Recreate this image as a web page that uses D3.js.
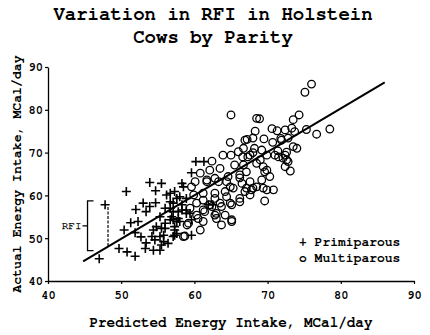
<!DOCTYPE html>
<html>
<head>
<meta charset="utf-8">
<script src="https://cdn.jsdelivr.net/npm/d3@7"></script>
<style>
body { margin: 0; background: #fff; }
text { font-family: FreeMono, "Courier New", "Liberation Mono", monospace; }
</style>
</head>
<body>
<div class="chart"></div>
<script>
// Primiparous cows (+)
var primX = [47.8, 47.0, 50.7, 53.9, 55.5, 54.7, 52.0, 53.0, 53.4, 54.7, 51.3, 52.3, 50.4, 51.9, 52.7,
  49.7, 50.8, 51.9, 53.4, 56.2, 57.3, 58.3, 54.4, 55.5, 55.8, 54.6, 55.5, 53.3, 56.9, 57.6,
  56.0, 56.7, 57.8, 57.3, 57.1, 56.4, 55.3, 54.4, 58.3, 58.0, 60.2, 61.3, 59.6, 57.1, 58.9,
  59.4, 58.0, 57.1, 57.3, 59.6, 61.9, 62.5, 56.7, 58.5, 56.7, 57.6, 58.9, 53.9, 56.0, 57.1,
  58.3, 55.3, 56.7, 57.8, 58.9, 59.6, 54.8, 56.0, 57.3, 55.3, 54.2, 57.6, 55.8];
var primY = [57.8, 45.2, 60.9, 63.0, 62.8, 61.1, 56.7, 58.2, 56.2, 58.3, 53.6, 53.9, 51.9, 51.3, 50.3,
  47.6, 46.8, 45.8, 48.9, 60.1, 60.9, 62.8, 51.9, 52.3, 50.7, 49.6, 48.4, 47.6, 55.0, 53.9,
  53.5, 57.0, 56.2, 51.9, 50.4, 48.8, 47.2, 47.2, 57.8, 59.7, 67.9, 67.9, 65.3, 58.2, 56.6,
  55.8, 53.9, 54.3, 50.7, 50.7, 57.8, 57.8, 60.5, 62.0, 58.5, 59.3, 59.3, 57.4, 57.0, 56.2,
  56.6, 55.0, 54.3, 54.6, 55.8, 54.3, 52.7, 52.3, 52.7, 50.4, 50.4, 51.1, 49.2];

// Multiparous cows (o)
var multX = [76.0, 75.1, 74.3, 73.5, 75.3, 76.7, 78.5, 68.9, 65.0, 68.5, 70.6, 71.3, 72.4, 73.3, 73.7,
  68.3, 67.2, 68.0, 69.5, 71.8, 70.7, 72.8, 73.5, 72.6, 71.4, 71.5, 72.1, 72.8, 72.4, 73.1,
  69.2, 69.9, 69.0, 66.7, 68.2, 68.0, 67.3, 69.4, 69.6, 70.3, 69.2, 68.5, 67.6, 70.8, 69.6,
  66.9, 66.2, 67.1, 66.7, 64.9, 66.9, 63.9, 65.0, 62.4, 66.0, 63.5, 65.5, 67.6, 68.5, 66.2,
  64.6, 63.3, 61.7, 60.1, 66.5, 68.0, 65.3, 64.2, 62.8, 61.2, 59.9, 66.2, 64.9, 63.5, 62.1,
  61.2, 63.0, 59.4, 60.5, 63.7, 65.1, 60.8, 58.7, 59.0, 59.6, 60.8, 62.1, 66.6, 71.0, 69.9,
  64.9, 67.1, 69.9, 67.6, 64.4, 62.8, 61.2, 60.3, 62.4, 63.7, 65.1, 66.2, 64.2, 62.8, 61.4,
  60.3, 59.2, 61.2, 65.1, 58.5, 63.0, 62.8, 72.6, 69.4, 67.8, 71.9, 74.0, 72.4, 64.4, 61.7];
var multY = [86.0, 84.1, 78.8, 77.7, 75.4, 74.3, 75.5, 77.9, 78.8, 78.0, 75.6, 75.1, 75.3, 75.7, 74.9,
  75.0, 73.1, 73.4, 73.2, 73.3, 72.4, 73.4, 71.4, 70.1, 70.4, 69.0, 68.7, 67.9, 66.7, 65.7,
  70.6, 69.4, 68.3, 71.0, 71.0, 70.0, 69.0, 66.7, 65.5, 64.4, 63.6, 62.0, 63.2, 61.3, 58.7,
  60.9, 64.1, 65.5, 67.1, 72.4, 72.9, 69.4, 69.4, 68.0, 70.2, 66.3, 67.1, 69.4, 67.5, 64.8,
  64.4, 63.2, 63.2, 63.2, 62.8, 61.7, 61.7, 60.9, 60.5, 60.5, 60.1, 59.3, 58.2, 58.2, 57.8,
  56.6, 55.8, 57.0, 54.6, 53.1, 53.9, 51.9, 50.5, 53.1, 62.0, 65.2, 65.9, 69.0, 69.4, 65.9,
  62.0, 61.7, 61.3, 60.1, 59.7, 59.3, 58.9, 58.2, 57.4, 57.4, 57.8, 58.5, 55.4, 55.4, 56.2,
  55.4, 53.5, 53.9, 54.3, 50.4, 54.6, 64.0, 68.3, 61.7, 61.3, 72.9, 71.0, 69.4, 63.2, 63.6];

// regression line end points
var fitX = [44.8, 86.0];
var fitY = [44.6, 86.4];

// RFI example: observed point above the line
var rfiX = 48.2;
var rfiTop = 57.3;

var ticks = [40, 50, 60, 70, 80, 90];
var legendLabels = ["+ Primiparous", "o Multiparous"];

var svgWidth = 430;
var svgHeight = 335;

var svg = d3.select(".chart")
  .append("svg")
  .attr("width", svgWidth)
  .attr("height", svgHeight);

var x = d3.scaleLinear().domain([40, 90]).range([48, 414]);
var y = d3.scaleLinear().domain([40, 90]).range([281, 67]);

// title
svg.append("text")
  .attr("x", 213).attr("y", 20)
  .attr("text-anchor", "middle")
  .style("font-weight", "bold").style("font-size", "19px")
  .text("Variation in RFI in Holstein");
svg.append("text")
  .attr("x", 213).attr("y", 43)
  .attr("text-anchor", "middle")
  .style("font-weight", "bold").style("font-size", "19px")
  .text("Cows by Parity");

// axes
svg.append("g")
  .attr("transform", "translate(0," + y(40) + ")")
  .call(d3.axisBottom(x).tickValues(ticks).tickSizeInner(3).tickSizeOuter(0).tickPadding(6));
svg.append("g")
  .attr("transform", "translate(" + x(40) + ",0)")
  .call(d3.axisLeft(y).tickValues(ticks).tickSizeInner(3).tickSizeOuter(0).tickPadding(2));

svg.selectAll(".domain").attr("stroke", "#000").attr("stroke-width", 1.3);
svg.selectAll(".tick line").attr("stroke", "#000").attr("stroke-width", 1.2);
svg.selectAll(".tick text")
  .attr("fill", "#000")
  .style("font-weight", "bold").style("font-size", "12px");

// axis titles
svg.append("text")
  .attr("x", 231).attr("y", 327)
  .attr("text-anchor", "middle")
  .style("font-weight", "bold").style("font-size", "14.3px")
  .text("Predicted Energy Intake, MCal/day");
svg.append("text")
  .attr("transform", "translate(21,174) rotate(-90)")
  .attr("text-anchor", "middle")
  .style("font-weight", "bold").style("font-size", "13.2px")
  .text("Actual Energy Intake, MCal/day");

// regression line
svg.append("line")
  .attr("x1", x(fitX[0])).attr("y1", y(fitY[0]))
  .attr("x2", x(fitX[1])).attr("y2", y(fitY[1]))
  .attr("stroke", "#000").attr("stroke-width", 2);

// RFI dashed distance
var slope = (fitY[1] - fitY[0]) / (fitX[1] - fitX[0]);
var rfiBottom = fitY[0] + slope * (rfiX - fitX[0]);
svg.append("line")
  .attr("x1", x(rfiX)).attr("y1", y(rfiTop))
  .attr("x2", x(rfiX)).attr("y2", y(rfiBottom))
  .attr("stroke", "#000").attr("stroke-width", 1.2)
  .attr("stroke-dasharray", "3,1.5");

// bracket
var bx = x(45.4);
var bTop = y(58.7), bBot = y(47.1), bMid = (bTop + bBot) / 2;
svg.append("path")
  .attr("d", "M" + (bx + 6) + "," + bTop + "H" + bx + "V" + bBot + "H" + (bx + 6) +
    "M" + bx + "," + bMid + "H" + (bx - 5))
  .attr("fill", "none").attr("stroke", "#000").attr("stroke-width", 1.3);
svg.append("text")
  .attr("x", bx - 6).attr("y", bMid + 3.5)
  .attr("text-anchor", "end")
  .attr("stroke", "#000").attr("stroke-width", 0.3)
  .style("font-size", "11px")
  .text("RFI");

// points
var prim = primX.map(function(d, i) { return [d, primY[i]]; });
var mult = multX.map(function(d, i) { return [d, multY[i]]; });

svg.append("g").selectAll("path")
  .data(prim)
  .enter().append("path")
  .attr("transform", function(d) { return "translate(" + x(d[0]) + "," + y(d[1]) + ")"; })
  .attr("d", "M-4.5,0H4.5M0,-4.5V4.5")
  .attr("stroke", "#000").attr("stroke-width", 1.6);

svg.append("g").selectAll("circle")
  .data(mult)
  .enter().append("circle")
  .attr("cx", function(d) { return x(d[0]); })
  .attr("cy", function(d) { return y(d[1]); })
  .attr("r", 3.8)
  .attr("fill", "none")
  .attr("stroke", "#000").attr("stroke-width", 1.3);

// legend
svg.selectAll(".legend")
  .data(legendLabels)
  .enter().append("text")
  .attr("class", "legend")
  .attr("x", 299)
  .attr("y", function(d, i) { return 246 + i * 16; })
  .style("font-weight", "bold").style("font-size", "13px")
  .text(function(d) { return d; });
</script>
</body>
</html>
